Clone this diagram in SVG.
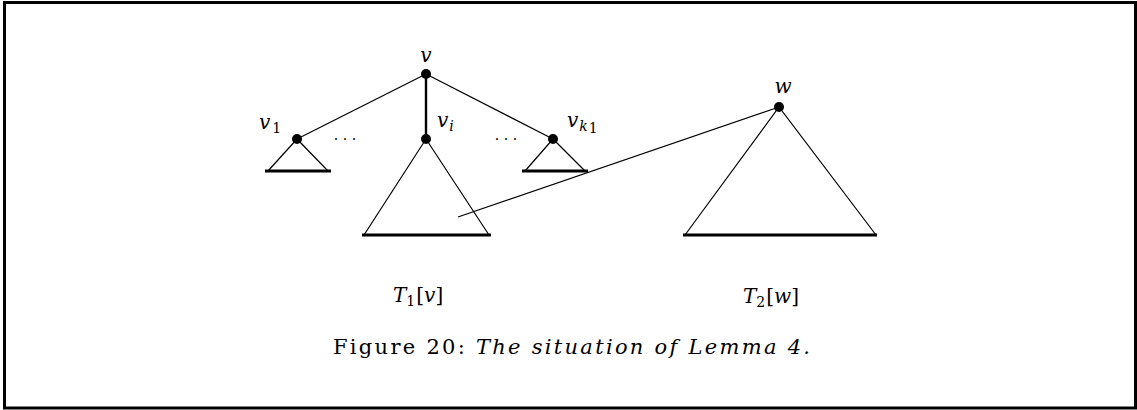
<svg xmlns="http://www.w3.org/2000/svg" width="1137" height="410" viewBox="0 0 1137 410">
<style>
.e{stroke:#000;stroke-width:1.2;fill:none}
.b{stroke:#000;stroke-width:3;fill:none}
.n{fill:#000}
.m{font-family:"DejaVu Serif","Liberation Serif",serif;font-style:italic;font-size:20px;fill:#000}
.s{font-family:"DejaVu Serif","Liberation Serif",serif;font-style:normal;font-size:14px}
.r{font-family:"DejaVu Serif","Liberation Serif",serif;font-size:21px;fill:#000}
.d{font-family:"DejaVu Serif","Liberation Serif",serif;font-size:14px;fill:#000}
</style>
<rect x="4.5" y="2.5" width="1131" height="405.5" fill="#fff" stroke="#000" stroke-width="3"/>
<g id="connectors">
<line class="e" x1="426" y1="74" x2="297" y2="139"/>
<line class="e" x1="426" y1="74" x2="426" y2="139" style="stroke-width:2.4"/>
<line class="e" x1="426" y1="74" x2="553" y2="139"/>
<line class="e" x1="458" y1="217" x2="779" y2="107"/>
</g>
<g id="node-v">
<circle class="n" cx="426" cy="74" r="5"/>
<text class="m" x="426" y="62" text-anchor="middle">v</text>
</g>
<g id="node-v1">
<circle class="n" cx="297" cy="139" r="5"/>
<polyline class="e" points="268,171 297,139 328,171"/>
<line class="b" x1="265" y1="171" x2="331" y2="171"/>
<text class="m" x="259" y="129">v<tspan class="s" dx="2" dy="4">1</tspan></text>
</g>
<g id="node-vi">
<circle class="n" cx="426" cy="139" r="5"/>
<polyline class="e" points="364,235 426,139 489,235"/>
<line class="b" x1="362" y1="235" x2="491" y2="235"/>
<text class="m" x="437" y="127">v<tspan font-size="14" dx="1" dy="4">i</tspan></text>
</g>
<g id="node-vk1">
<circle class="n" cx="553" cy="139" r="5"/>
<polyline class="e" points="525,171 553,139 585,171"/>
<line class="b" x1="522" y1="171" x2="588" y2="171"/>
<text class="m" x="567" y="127">v<tspan font-size="14" dx="1" dy="4">k</tspan><tspan class="s" font-size="10" dx="1" dy="2">1</tspan></text>
</g>
<g id="dots">
<text class="d" x="345" y="140" text-anchor="middle">. . .</text>
<text class="d" x="506" y="140" text-anchor="middle">. . .</text>
</g>
<g id="node-w">
<circle class="n" cx="779" cy="107" r="5"/>
<polyline class="e" points="685,235 779,107 876,235"/>
<line class="b" x1="683" y1="235" x2="877" y2="235"/>
<text class="m" x="783" y="93" text-anchor="middle">w</text>
</g>
<g id="label-T1">
<text class="m" x="393" y="302">T<tspan class="s" dy="4">1</tspan><tspan font-style="normal" dx="1" dy="-4">[</tspan>v<tspan font-style="normal">]</tspan></text>
</g>
<g id="label-T2">
<text class="m" x="743" y="303">T<tspan class="s" dy="4">2</tspan><tspan font-style="normal" dx="1" dy="-4">[</tspan>w<tspan font-style="normal">]</tspan></text>
</g>
<text class="r" x="333" y="354" textLength="477" lengthAdjust="spacing">Figure 20: <tspan font-style="italic">The situation of Lemma 4.</tspan></text>
</svg>
